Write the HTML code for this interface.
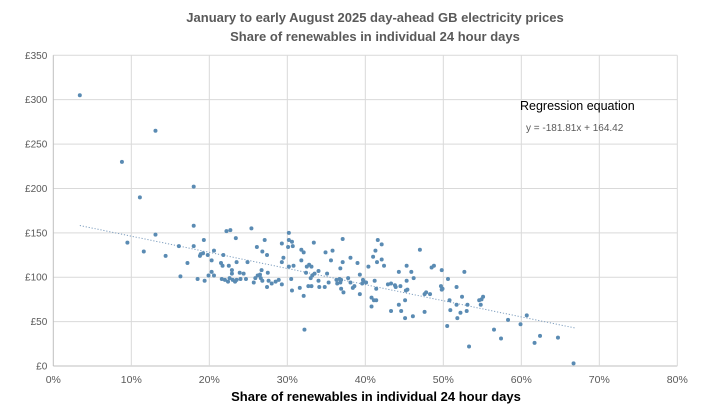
<!DOCTYPE html>
<html><head><meta charset="utf-8"><style>
html,body{margin:0;padding:0;background:#fff;}
svg{display:block;font-family:"Liberation Sans",sans-serif;}
</style></head><body>
<svg id="chart" width="720" height="405" viewBox="0 0 720 405">
<text x="375" y="22" text-anchor="middle" font-size="13" font-weight="bold" fill="#595959">January to early August 2025 day-ahead GB electricity prices</text>
<text x="375" y="41" text-anchor="middle" font-size="13" font-weight="bold" fill="#595959">Share of renewables in individual 24 hour days</text>
<g id="grid"></g>
<g id="yticks"></g>
<g id="xticks"></g>
<g id="trend"></g>
<g id="points"></g>
<text x="520" y="110" font-size="12.5" fill="#000">Regression equation</text>
<text x="526" y="131" font-size="10" fill="#595959">y = -181.81x + 164.42</text>
<text x="376" y="401" text-anchor="middle" font-size="13" font-weight="bold" fill="#000">Share of renewables in individual 24 hour days</text>
</svg>
<script>
const xTickLabels = ["0%","10%","20%","30%","40%","50%","60%","70%","80%"];
const xTickValues = [0,10,20,30,40,50,60,70,80];
const yTickLabels = ["£0","£50","£100","£150","£200","£250","£300","£350"];
const yTickValues = [0,50,100,150,200,250,300,350];
const regSlope = -181.81;
const regIntercept = 164.42;
const regRange = [3.4, 67];
const share = [3.4,13.1,8.8,11.1,18.0,18.0,13.1,9.5,11.6,14.4,16.1,16.3,17.2,18.0,18.5,19.3,18.8,18.9,19.2,19.4,19.8,20.3,20.6,19.9,20.3,20.6,21.5,21.7,21.8,22.2,22.7,23.4,22.5,22.9,23.5,21.6,22.0,22.4,22.6,23.0,23.3,23.5,24.0,24.4,24.7,23.9,22.9,24.9,25.4,26.1,26.8,27.1,27.4,26.7,25.7,25.9,26.2,26.5,26.6,26.8,27.5,27.6,27.4,28.0,28.5,28.9,29.3,29.3,29.5,29.3,30.2,30.2,30.1,30.2,
30.7,30.6,30.8,30.5,30.6,31.6,32.1,32.2,31.8,32.1,31.8,32.4,32.5,32.8,33.1,32.7,33.1,33.0,33.2,33.5,33.4,34.0,34.0,34.1,34.8,34.9,35.6,35.8,35.1,35.3,36.3,36.7,36.9,36.4,36.8,37.1,36.8,37.1,36.9,37.2,37.8,38.1,38.1,38.4,38.6,39.0,39.3,39.3,39.7,39.8,40.1,39.6,40.4,41.0,41.3,41.6,42.1,41.5,42.1,42.4,41.2,41.4,40.8,41.1,41.4,40.8,43.3,42.9,43.3,43.9,43.8,44.3,44.3,44.6,45.1,45.1,45.3,45.3,45.2,45.4,44.5,45.9,46.2,46.1,47.0,47.6,47.6,47.8,48.3,48.5,48.8,49.8,49.7,49.9,49.8,50.6,50.8,50.9,50.5,51.7,51.7,52.4,52.2,51.8,52.7,53.1,53.0,53.3,54.6,
54.8,54.9,55.1,56.5,57.4,58.3,59.9,60.7,61.7,62.4,64.7,66.7];
const price = [305,265,230,190,202,158,148,139,129,124,135,101,116,135,98,142,124,126,127,96,125,119,130,102,106,102,116,113,125,152,153,144,113,108,117,98,97,95,99,97,95,97,98,104,98,105,104,117,155,134,129,142,125,108,94,99,102,103,99,96,105,96,89,93,95,97,92,138,122,117,150,142,134,112,
135,140,113,98,85,88,79,41,131,128,119,105,112,114,112,90,90,99,102,104,139,107,96,89,89,128,119,130,104,94,97,98,97,93,94,143,110,117,87,83,99,122,94,88,90,116,103,81,97,95,94,93,112,123,130,142,137,117,120,113,96,87,77,74,74,67,62,92,93,89,91,106,69,62,54,74,113,96,85,86,90,106,99,56,131,61,81,83,81,111,113,108,90,87,86,98,74,63,45,89,69,78,60,54,106,69,62,22,74,
69,75,78,41,31,52,47,57,26,34,32,3];

const L=53.3, R=677.3, T=55.3, B=366;
const xScale = v => L + (v/80)*(R-L);
const yScale = v => B - (v/350)*(B-T);
const NS="http://www.w3.org/2000/svg";
const mk=(tag,attrs,parent)=>{const e=document.createElementNS(NS,tag);for(const k in attrs)e.setAttribute(k,attrs[k]);parent.appendChild(e);return e;};

const grid=document.getElementById('grid');
const yt=document.getElementById('yticks');
const xt=document.getElementById('xticks');
yTickValues.forEach((v,i)=>{
  const l=mk('line',{x1:L,x2:R,y1:yScale(v),y2:yScale(v),stroke:v===0?'#bfbfbf':'#d9d9d9','stroke-width':1},grid);
  
  
  const t=mk('text',{x:L-6,y:yScale(v)+3.5,'text-anchor':'end','font-size':'10',fill:'#595959'},yt);
  t.textContent=yTickLabels[i];
  
  
});
xTickValues.forEach((v,i)=>{
  const l=mk('line',{x1:xScale(v),x2:xScale(v),y1:T,y2:B,stroke:v===0?'#bfbfbf':'#d9d9d9','stroke-width':1},grid);
  
  
  const t=mk('text',{x:xScale(v),y:B+17,'text-anchor':'middle','font-size':'10.5',fill:'#595959'},xt);
  t.textContent=xTickLabels[i];
  
  
});
const tr=document.getElementById('trend');
const yr=x=>regSlope*(x/100)+regIntercept;
const tl=mk('line',{x1:xScale(regRange[0]),y1:yScale(yr(regRange[0])),x2:xScale(regRange[1]),y2:yScale(yr(regRange[1])),stroke:'#7f9fbf','stroke-width':1,'stroke-dasharray':'1.2 1.8'},tr);


const pts=document.getElementById('points');
share.forEach((s,i)=>{
  const c=mk('circle',{cx:xScale(s),cy:yScale(price[i]),r:2,fill:'#5a8bb3'},pts);
  
  
});
</script>
</body></html>
